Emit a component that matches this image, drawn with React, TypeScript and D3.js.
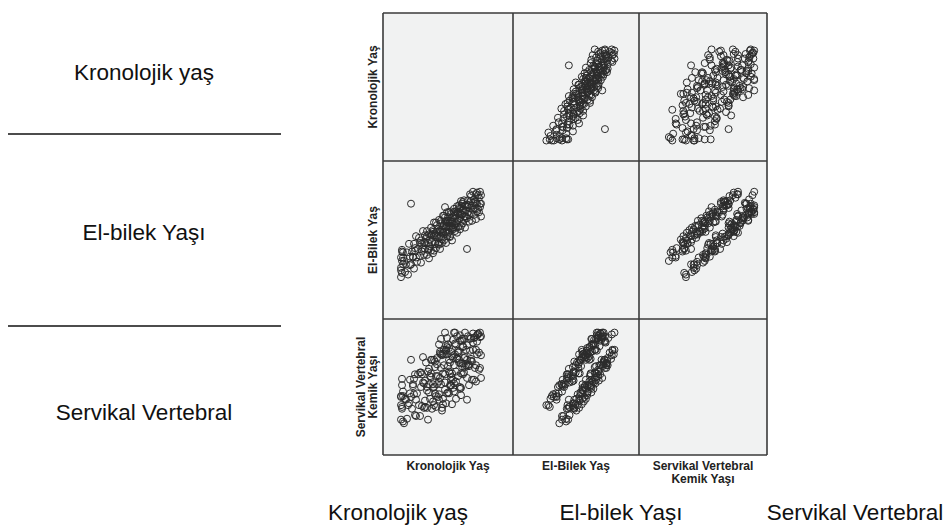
import React, { useEffect, useRef } from 'react';
import * as d3 from 'd3';

// variable names as shown on the matrix
const matrixLabels = [['Kronolojik Yaş'], ['El-Bilek Yaş'], ['Servikal Vertebral', 'Kemik Yaşı']];
const sideLabels = ['Kronolojik yaş', 'El-bilek Yaşı', 'Servikal Vertebral'];

// one value per subject, same index in each array (years)
const kronolojik = [
  8.0, 8.1, 8.0, 8.2, 8.1, 8.0, 8.2, 8.1, 8.3, 8.0, 8.2, 8.1,
  8.4, 8.5, 8.6, 8.7, 8.8, 8.9, 9.0, 9.0, 9.1, 9.2, 9.3, 9.3, 9.4, 9.5, 9.5, 9.2, 8.9, 9.4,
  9.6, 9.7, 9.8, 9.9, 10.0, 10.0, 10.1, 10.2, 10.2, 10.3, 10.4, 10.4, 10.5, 10.6, 10.6, 10.7, 10.7, 10.8, 10.8, 9.9, 10.3, 10.1,
  10.9, 11.0, 11.0, 11.1, 11.2, 11.2, 11.3, 11.3, 11.4, 11.5, 11.5, 11.6, 11.6, 11.7, 11.7, 11.8, 11.8, 11.9, 11.9, 12.0,
  12.0, 12.1, 12.1, 12.2, 12.2, 11.1, 11.4, 12.0, 11.8, 10.9,
  12.3, 12.3, 12.4, 12.4, 12.5, 12.5, 12.6, 12.6, 12.7, 12.7, 12.8, 12.8, 12.9, 12.9, 13.0, 13.0, 13.1, 13.1, 13.2, 13.2,
  13.3, 13.3, 13.4, 13.4, 13.5, 13.5, 13.6, 13.6, 12.4, 12.6, 13.0, 12.8, 13.3, 12.5, 13.5, 13.2,
  13.7, 13.7, 13.8, 13.8, 13.9, 13.9, 14.0, 14.0, 14.1, 14.1, 14.2, 14.2, 14.3, 14.3, 14.4, 14.4, 14.5, 14.6, 14.6, 14.7,
  14.7, 14.8, 14.8, 14.9, 14.9, 14.0, 14.5, 13.9, 14.2, 14.6,
  15.0, 15.0, 15.1, 15.1, 15.2, 15.2, 15.3, 15.3, 15.4, 15.4, 15.5, 15.5, 15.6, 15.6, 15.7, 15.7, 15.8, 15.8, 15.9, 15.9,
  16.0, 16.0, 16.0, 15.2, 15.5, 15.9, 15.0, 15.6,
  11.2, 11.4, 11.6, 11.8, 12.0, 12.2, 12.4, 12.6, 12.8, 13.0, 13.2, 13.4, 13.6, 13.8, 14.0, 14.2, 14.4, 11.0, 11.3, 11.5,
  11.9, 12.1, 12.3, 12.5, 12.7, 12.9, 13.1, 13.3, 13.5, 13.7, 13.9, 14.1, 14.3, 10.6, 10.8, 10.4, 14.6, 14.8, 12.2, 13.0,
];
const elBilek = [
  7.0, 7.5, 7.8, 8.5, 8.9, 9.3, 9.9, 10.2, 8.9, 8.1, 9.3, 10.0,
  7.6, 8.5, 9.9, 7.3, 10.9, 9.4, 15.6, 8.5, 10.0, 9.3, 10.9, 8.0, 10.4, 9.3, 11.8, 9.4, 8.4, 10.1,
  8.8, 10.3, 11.6, 9.5, 11.3, 8.7, 10.9, 10.4, 12.4, 9.6, 11.9, 10.3, 11.5, 9.6, 12.4, 11.0, 10.2, 12.0, 9.2, 11.0, 11.0, 10.0,
  11.4, 10.1, 12.8, 11.1, 12.3, 9.8, 11.9, 13.4, 10.9, 11.9, 10.4, 13.1, 11.7, 12.6, 10.9, 13.7, 11.6, 12.5, 10.3, 13.3,
  11.7, 12.6, 11.0, 14.2, 12.3, 12.0, 12.1, 12.3, 11.1, 10.6,
  13.1, 11.3, 14.0, 12.3, 13.6, 11.0, 13.0, 14.6, 12.1, 14.0, 13.0, 14.6, 11.8, 13.6, 12.7, 14.4, 13.3, 11.3, 14.0, 12.6,
  15.0, 13.1, 13.9, 12.4, 14.7, 13.3, 15.3, 12.2, 15.2, 13.4, 13.5, 12.3, 14.2, 12.9, 14.2, 12.8,
  12.9, 14.6, 15.4, 13.7, 14.4, 12.6, 15.9, 13.6, 14.3, 15.3, 13.3, 14.9, 16.0, 14.1, 15.4, 12.8, 14.8, 10.3, 13.9, 16.0,
  14.6, 15.4, 13.5, 16.7, 15.1, 14.4, 14.1, 15.0, 15.8, 15.5,
  14.5, 16.5, 15.4, 13.6, 17.0, 14.9, 16.1, 14.3, 15.8, 15.0, 16.7, 13.8, 15.6, 16.9, 15.0, 16.6, 14.6, 16.3, 17.0, 15.6,
  16.6, 14.1, 15.6, 15.7, 15.8, 15.2, 15.9, 14.7,
  12.5, 11.1, 12.3, 10.8, 13.6, 12.2, 13.5, 11.8, 13.3, 14.7, 12.8, 14.4, 13.5, 15.1, 13.0, 14.8, 14.1, 11.9, 10.1, 13.4,
  12.3, 11.4, 14.2, 12.2, 13.6, 11.7, 13.5, 14.6, 12.8, 14.4, 13.9, 15.6, 13.7, 11.8, 10.3, 11.0, 15.2, 14.3, 13.0, 13.0,
];
const servikal = [
  8.0, 7.8, 9.0, 9.0, 10.2, 6.4, 6.2, 7.6, 6.0, 8.9, 9.5, 10.9,
  8.7, 8.6, 6.5, 8.0, 8.2, 10.8, 13.0, 8.9, 7.6, 10.3, 10.9, 9.2, 6.9, 6.8, 8.6, 10.1, 9.3, 11.4,
  9.3, 11.4, 8.0, 6.8, 11.6, 10.0, 7.9, 10.5, 13.3, 10.4, 8.5, 7.8, 12.7, 10.0, 9.6, 11.7, 6.4, 9.4, 10.3, 11.6, 7.7, 11.4,
  8.7, 11.1, 13.0, 7.6, 9.9, 10.3, 13.0, 10.0, 12.2, 9.0, 7.8, 13.2, 12.5, 8.9, 11.2, 14.7, 9.2, 13.7, 11.0, 10.3,
  12.1, 13.5, 7.7, 11.5, 8.7, 13.0, 9.3, 13.6, 8.6, 11.2,
  13.6, 12.4, 10.5, 9.7, 14.6, 8.2, 9.3, 15.4, 12.3, 14.7, 14.3, 11.7, 12.7, 10.2, 10.2, 11.1, 13.4, 8.1, 15.2, 13.2,
  12.4, 9.5, 14.8, 13.6, 11.7, 10.6, 15.6, 13.2, 16.0, 14.4, 13.9, 9.3, 10.4, 14.0, 14.7, 9.9,
  13.8, 11.2, 12.7, 13.9, 15.7, 10.0, 12.6, 9.9, 15.3, 12.3, 14.4, 11.4, 13.2, 11.6, 16.0, 13.3, 12.4, 8.6, 14.6, 12.4,
  15.6, 12.5, 10.2, 14.0, 15.3, 11.5, 14.1, 15.1, 12.6, 13.0,
  15.4, 13.1, 12.8, 10.8, 14.1, 15.9, 15.4, 10.8, 12.1, 15.5, 14.1, 10.6, 15.0, 13.6, 15.9, 15.8, 11.9, 13.8, 16.0, 12.1,
  13.5, 11.0, 15.6, 14.9, 12.4, 15.5, 12.9, 15.7,
  8.4, 12.8, 10.3, 10.6, 15.3, 8.1, 11.4, 13.6, 13.0, 10.7, 10.8, 16.0, 13.1, 13.0, 9.1, 14.5, 12.2, 11.5, 8.0, 11.2,
  13.9, 7.4, 14.1, 14.1, 9.4, 11.5, 11.5, 16.0, 8.7, 14.0, 9.8, 15.1, 15.3, 7.7, 12.0, 10.7, 11.0, 12.3, 13.7, 10.2,
];

const series = [kronolojik, elBilek, servikal];

const App = () => {
  const svgRef = useRef(null);

  useEffect(() => {
    const svg = d3.select(svgRef.current);
    svg.selectAll('*').remove();

    const colEdges = [383, 513, 639, 767];
    const rowEdges = [13, 161, 319, 455];
    const domains = [[6.2, 19.2], [2.1, 20.6], [2.5, 17.5]];
    const font = '"Liberation Sans", Arial, sans-serif';
    const n = d3.min(series, s => s.length);

    const xScales = domains.map((d, i) => d3.scaleLinear().domain(d).range([colEdges[i], colEdges[i + 1]]));
    const yScales = domains.map((d, i) => d3.scaleLinear().domain(d).range([rowEdges[i + 1], rowEdges[i]]));

    // panel backgrounds
    for (let r = 0; r < 3; r++) {
      for (let c = 0; c < 3; c++) {
        svg.append('rect')
          .attr('x', colEdges[c])
          .attr('y', rowEdges[r])
          .attr('width', colEdges[c + 1] - colEdges[c])
          .attr('height', rowEdges[r + 1] - rowEdges[r])
          .attr('fill', '#f1f2f2');
      }
    }

    // scatter points, diagonal left empty
    for (let r = 0; r < 3; r++) {
      for (let c = 0; c < 3; c++) {
        if (r === c) continue;
        const pts = d3.range(n).map(i => ({ x: series[c][i], y: series[r][i] }));
        svg.append('g')
          .selectAll('circle')
          .data(pts)
          .enter()
          .append('circle')
          .attr('cx', d => xScales[c](d.x))
          .attr('cy', d => yScales[r](d.y))
          .attr('r', 3.5)
          .attr('fill', 'none')
          .attr('stroke', '#2b2b2b')
          .attr('stroke-width', 1);
      }
    }

    // panel borders
    const grid = svg.append('g').attr('stroke', '#3a3a3a').attr('stroke-width', 1.6);
    colEdges.forEach(x => grid.append('line').attr('x1', x).attr('x2', x).attr('y1', rowEdges[0]).attr('y2', rowEdges[3]));
    rowEdges.forEach(y => grid.append('line').attr('x1', colEdges[0]).attr('x2', colEdges[3]).attr('y1', y).attr('y2', y));

    // row labels (rotated)
    matrixLabels.forEach((lines, i) => {
      const cy = (rowEdges[i] + rowEdges[i + 1]) / 2;
      lines.forEach((t, j) => {
        const x = 377 - (lines.length - 1 - j) * 12.5;
        svg.append('text')
          .attr('transform', `translate(${x},${cy}) rotate(-90)`)
          .attr('text-anchor', 'middle')
          .style('font-family', font)
          .style('font-weight', 700)
          .style('font-size', '12px')
          .style('fill', '#222')
          .text(t);
      });
    });

    // column labels
    matrixLabels.forEach((lines, i) => {
      const cx = (colEdges[i] + colEdges[i + 1]) / 2;
      lines.forEach((t, j) => {
        svg.append('text')
          .attr('x', cx)
          .attr('y', 470 + j * 12.5)
          .attr('text-anchor', 'middle')
          .style('font-family', font)
          .style('font-weight', 700)
          .style('font-size', '12px')
          .style('fill', '#222')
          .text(t);
      });
    });

    // outer annotations: left column and bottom row
    const leftY = [80, 240, 420];
    sideLabels.forEach((t, i) => {
      svg.append('text')
        .attr('x', 144)
        .attr('y', leftY[i])
        .attr('text-anchor', 'middle')
        .style('font-family', font)
        .style('font-size', '22.5px')
        .style('fill', '#111')
        .text(t);
    });
    [134, 326].forEach(y => {
      svg.append('line')
        .attr('x1', 8).attr('x2', 281)
        .attr('y1', y).attr('y2', y)
        .attr('stroke', '#111')
        .attr('stroke-width', 1.5);
    });
    const bottomX = [398, 621, 855];
    sideLabels.forEach((t, i) => {
      svg.append('text')
        .attr('x', bottomX[i])
        .attr('y', 520)
        .attr('text-anchor', 'middle')
        .style('font-family', font)
        .style('font-size', '22.5px')
        .style('fill', '#111')
        .text(t);
    });
  }, []);

  return (
    <div style={{ position: 'absolute', top: 0, left: 0, background: '#fff' }}>
      <svg ref={svgRef} width={952} height={532} style={{ display: 'block' }}></svg>
    </div>
  );
};

export default App;
